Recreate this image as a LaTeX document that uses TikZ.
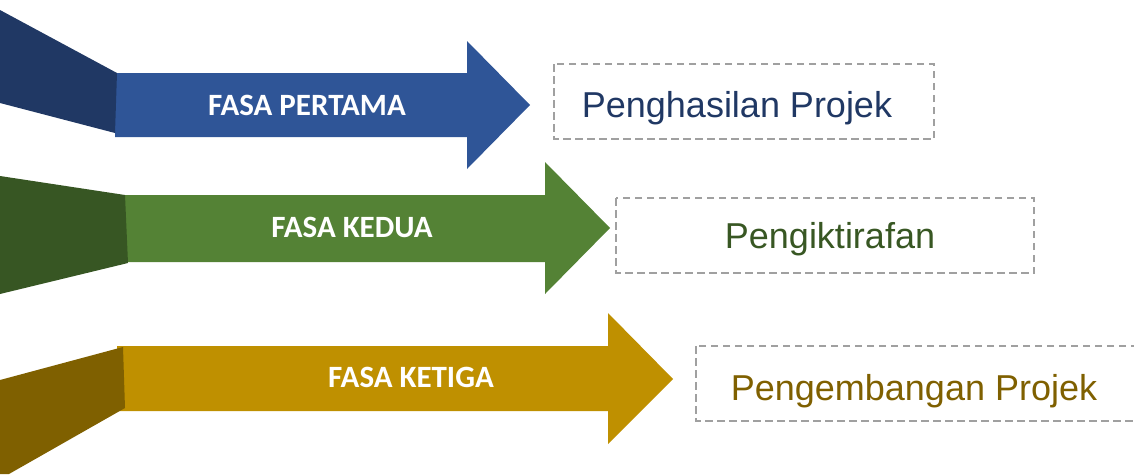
\documentclass[tikz,border=0pt]{standalone}
\usepackage{fontspec}
\setmainfont{Liberation Sans}
\newfontfamily\fasafont{Carlito}
\definecolor{blueA}{HTML}{2F5597}
\definecolor{blueD}{HTML}{203864}
\definecolor{greenA}{HTML}{548235}
\definecolor{greenD}{HTML}{375623}
\definecolor{goldA}{HTML}{BF9000}
\definecolor{goldD}{HTML}{7F6000}
\definecolor{boxgray}{HTML}{A0A0A0}
\definecolor{txtblue}{HTML}{203864}
\definecolor{txtgreen}{HTML}{385723}
\definecolor{txtgold}{HTML}{7F6000}
\tikzset{
  fasa/.style={text=white, font=\fasafont\bfseries\fontsize{31}{31}\selectfont, anchor=base, inner sep=0pt},
  outbox/.style={draw=boxgray, line width=2.6pt, dash pattern=on 7.5pt off 4.5pt, inner sep=0pt},
  outtext/.style={font=\fontsize{36}{36}\selectfont, anchor=base, inner sep=0pt}
}
\begin{document}
\begin{tikzpicture}[x=1pt,y=-1pt]
\useasboundingbox (0,0) rectangle (1134,474);
% blue arrow
\fill[blueA] (115,73) -- (467,73) -- (467,41) -- (530,105) -- (467,169) -- (467,137) -- (115,137) -- cycle;
\fill[blueD] (0,10) -- (117,73) -- (115,133) -- (0,103) -- cycle;
% green arrow
\fill[greenA] (125,195) -- (545,195) -- (545,162) -- (610,228) -- (545,294) -- (545,262) -- (125,262) -- cycle;
\fill[greenD] (0,176) -- (125,195) -- (128,263) -- (0,294) -- cycle;
% gold arrow
\fill[goldA] (117,346) -- (608,346) -- (608,313) -- (673,379) -- (608,444) -- (608,411) -- (117,411) -- cycle;
\fill[goldD] (0,380) -- (123,347) -- (125,408) -- (9,474) -- (0,474) -- cycle;
% arrow labels
\node[fasa] (f1) at (307,115) {FASA PERTAMA};
\node[fasa] (f2) at (352,237) {FASA KEDUA};
\node[fasa] (f3) at (411,387) {FASA KETIGA};
% boxes
\draw[outbox] (554,64) rectangle (934,139);
\draw[outbox] (616,198) rectangle (1034,273);
\draw[outbox] (696,346) rectangle (1160,421);
\node[outtext, text=txtblue] (b1) at (737,117) {Penghasilan Projek};
\node[outtext, text=txtgreen] (b2) at (830,248) {Pengiktirafan};
\node[outtext, text=txtgold] (b3) at (914,400) {Pengembangan Projek};
\end{tikzpicture}
\end{document}
